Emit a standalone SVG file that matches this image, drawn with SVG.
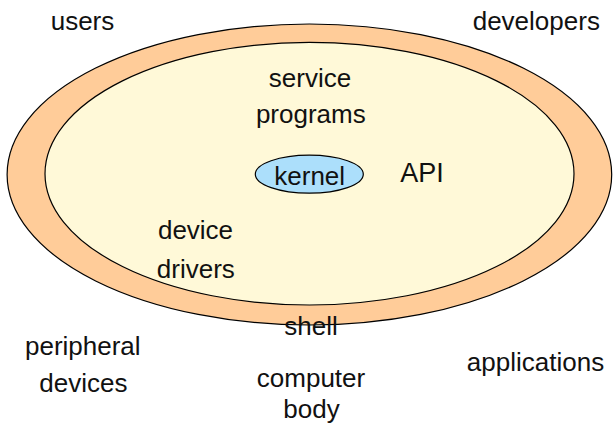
<svg xmlns="http://www.w3.org/2000/svg" width="616" height="433" viewBox="0 0 616 433">
<style>
  text { font-family: "Liberation Sans", Arial, sans-serif; font-size: 26px; fill: #111; text-anchor: middle; }
  .ring { stroke: #000; stroke-width: 1.2; }
</style>
<rect width="616" height="433" fill="#fff"/>
<g id="shell">
  <ellipse class="ring" cx="309.4" cy="174.5" rx="302.3" ry="150.5" fill="#FFCC99"/>
</g>
<g id="body">
  <ellipse class="ring" cx="309.5" cy="173.7" rx="264.5" ry="131.3" fill="#FFF9D8"/>
</g>
<g id="kernel">
  <ellipse class="ring" cx="309.3" cy="174.2" rx="54" ry="19" fill="#ACDFFB"/>
  <text x="309.7" y="185">kernel</text>
</g>
<g id="labels">
  <text x="82.5" y="30">users</text>
  <text x="536.3" y="29.5">developers</text>
  <text x="310" y="86.7">service</text>
  <text x="310.8" y="122.7">programs</text>
  <text x="422" y="182.3" style="font-size:27px">API</text>
  <text x="195.5" y="239.3">device</text>
  <text x="195.8" y="278.3">drivers</text>
  <text x="311" y="335">shell</text>
  <text x="82.8" y="355">peripheral</text>
  <text x="83.3" y="391.7">devices</text>
  <text x="311" y="387">computer</text>
  <text x="311.5" y="418">body</text>
  <text x="535.5" y="370.5">applications</text>
</g>
</svg>
